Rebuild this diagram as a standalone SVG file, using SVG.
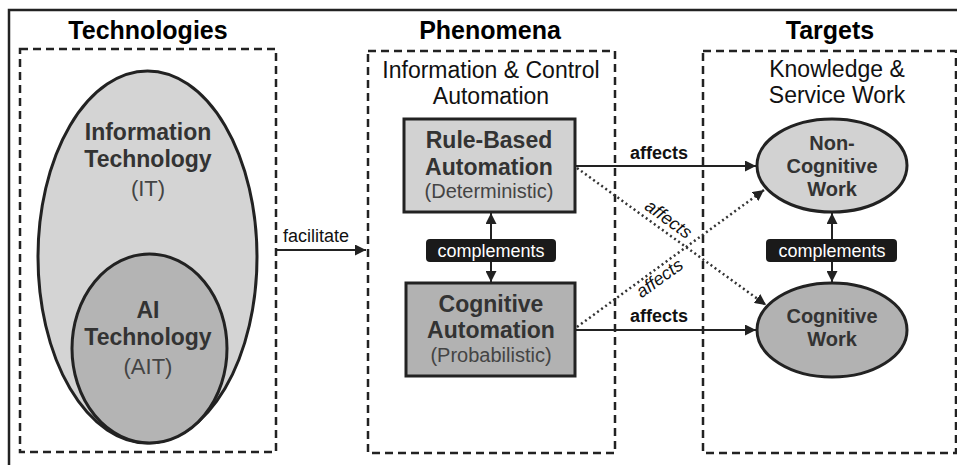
<svg xmlns="http://www.w3.org/2000/svg" width="957" height="465" viewBox="0 0 957 465">
<defs>
<style>
text{font-family:"Liberation Sans",Arial,sans-serif;text-anchor:middle}
.title{font-size:25px;font-weight:bold;fill:#000}
.sub{font-size:23px;fill:#111}
.nb{font-size:23px;font-weight:bold;fill:#333}
.nr{font-size:20px;fill:#444}
.eb{font-size:20px;font-weight:bold;fill:#333}
.dash{fill:none;stroke:#222;stroke-width:2.5;stroke-dasharray:8 5}
.node{stroke:#222;stroke-width:3}
.conn{fill:none;stroke:#222;stroke-width:2}
.dot{fill:none;stroke:#333;stroke-width:2.5;stroke-dasharray:2 3}
.lbl{font-size:18px;fill:#111}
.lblb{font-size:18px;font-weight:bold;fill:#111}
.lbli{font-size:18px;font-style:italic;fill:#111}
.tag{fill:#1a1a1a}
.tagt{font-size:18px;fill:#fff}
</style>
<marker id="ah" viewBox="0 0 10 10" refX="10" refY="5" markerWidth="6" markerHeight="6" orient="auto-start-reverse" markerUnits="userSpaceOnUse">
<path d="M0,0 L10,5 L0,10 z" fill="#222"/>
</marker>
<marker id="ahs" viewBox="0 0 10 10" refX="10" refY="5" markerWidth="11" markerHeight="11" orient="auto-start-reverse" markerUnits="userSpaceOnUse">
<path d="M0,0 L10,5 L0,10 z" fill="#222"/>
</marker>
</defs>
<rect x="0" y="0" width="957" height="465" fill="#fff"/>
<path d="M9,465 V10 H957" fill="none" stroke="#222" stroke-width="2.5"/>

<g id="technologies">
<text class="title" x="148" y="39">Technologies</text>
<rect class="dash" x="20" y="49" width="256" height="403"/>
</g>
<g id="it">
<ellipse class="node" cx="147.5" cy="257" rx="109.5" ry="186" fill="#d4d4d4"/>
<text class="nb" x="148" y="140">Information</text>
<text class="nb" x="148" y="167">Technology</text>
<text class="nr" x="148" y="196" style="font-size:22px">(IT)</text>
</g>
<g id="ait">
<ellipse class="node" cx="149.5" cy="348.5" rx="77.5" ry="94.5" fill="#b4b4b4"/>
<text class="nb" x="148" y="318">AI</text>
<text class="nb" x="148" y="345">Technology</text>
<text class="nr" x="148" y="374" style="font-size:22px">(AIT)</text>
</g>

<g id="phenomena">
<text class="title" x="490" y="39">Phenomena</text>
<rect class="dash" x="368" y="51" width="247" height="402"/>
<text class="sub" x="491" y="78">Information &amp; Control</text>
<text class="sub" x="491" y="104">Automation</text>
</g>
<g id="rule">
<rect class="node" x="404" y="119" width="171" height="93" fill="#d2d2d2"/>
<text class="nb" x="489" y="148">Rule-Based</text>
<text class="nb" x="489" y="175">Automation</text>
<text class="nr" x="489" y="198">(Deterministic)</text>
</g>
<g id="cogauto">
<rect class="node" x="406" y="283" width="169" height="93" fill="#b2b2b2"/>
<text class="nb" x="491" y="312">Cognitive</text>
<text class="nb" x="491" y="338">Automation</text>
<text class="nr" x="491" y="362">(Probabilistic)</text>
</g>

<g id="targets">
<text class="title" x="830" y="39">Targets</text>
<rect class="dash" x="703" y="51" width="253" height="402"/>
<text class="sub" x="837" y="77">Knowledge &amp;</text>
<text class="sub" x="837" y="103">Service Work</text>
</g>
<g id="noncog">
<ellipse class="node" cx="832" cy="165.5" rx="75" ry="46.5" fill="#d2d2d2"/>
<text class="eb" x="832" y="150">Non-</text>
<text class="eb" x="832" y="173">Cognitive</text>
<text class="eb" x="832" y="196">Work</text>
</g>
<g id="cogwork">
<ellipse class="node" cx="832" cy="330" rx="75" ry="47" fill="#b2b2b2"/>
<text class="eb" x="832" y="323">Cognitive</text>
<text class="eb" x="832" y="346">Work</text>
</g>

<g id="connectors">
<line class="conn" x1="276" y1="250" x2="366" y2="250" marker-end="url(#ahs)"/>
<text class="lbl" x="316" y="242">facilitate</text>

<line class="conn" x1="491" y1="213" x2="491" y2="282" marker-start="url(#ahs)" marker-end="url(#ahs)"/>
<rect class="tag" x="426" y="239" width="130" height="23" rx="4"/>
<text class="tagt" x="491" y="257">complements</text>

<line class="conn" x1="832" y1="213" x2="832" y2="282" marker-start="url(#ahs)" marker-end="url(#ahs)"/>
<rect class="tag" x="766" y="239" width="131" height="23" rx="4"/>
<text class="tagt" x="832" y="257">complements</text>

<line class="conn" x1="575" y1="166" x2="756" y2="166" marker-end="url(#ahs)"/>
<text class="lblb" x="659" y="159">affects</text>
<line class="conn" x1="575" y1="330" x2="756" y2="330" marker-end="url(#ahs)"/>
<text class="lblb" x="659" y="322">affects</text>

<line class="dot" x1="577" y1="168" x2="766" y2="305" marker-end="url(#ahs)"/>
<text class="lbli" transform="translate(665,224) rotate(36)">affects</text>
<line class="dot" x1="577" y1="327" x2="764" y2="190" marker-end="url(#ahs)"/>
<text class="lbli" transform="translate(663,283) rotate(-36)">affects</text>
</g>
</svg>
